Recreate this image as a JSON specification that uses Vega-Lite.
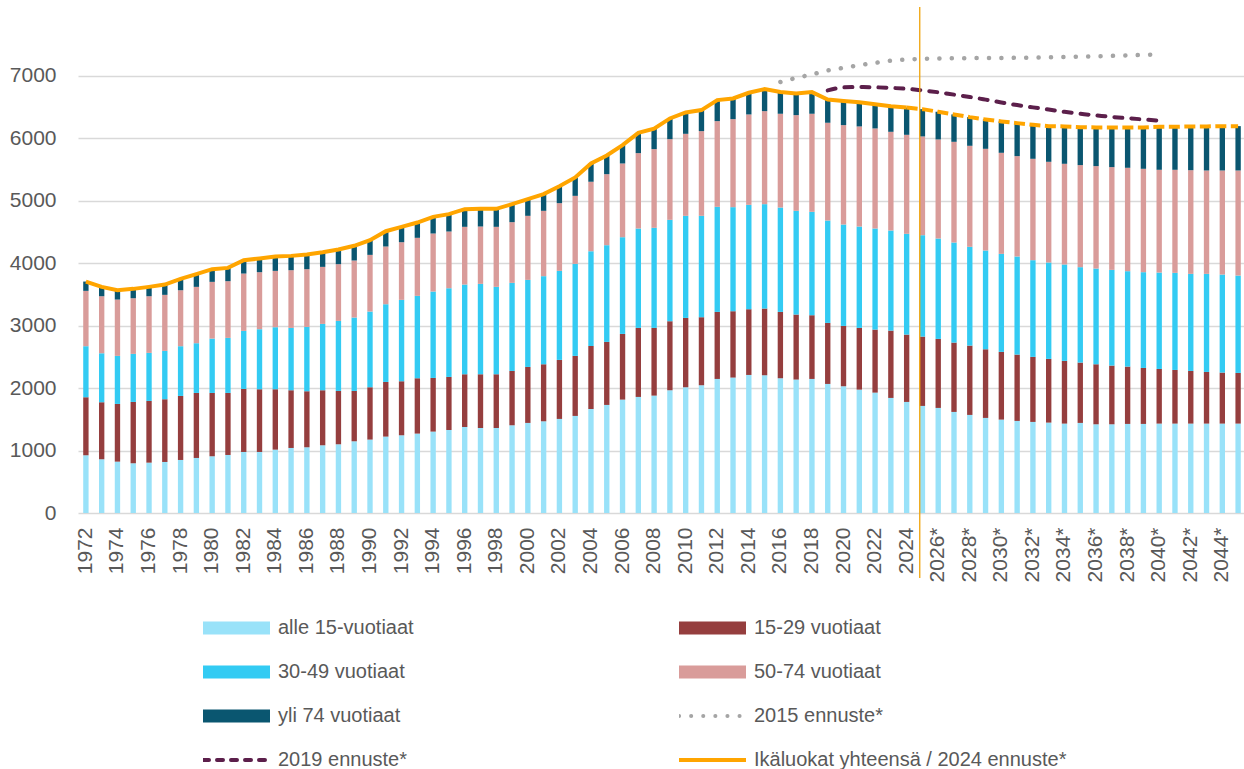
{
  "$schema": "https://vega.github.io/schema/vega-lite/v6.json",
  "width": 1168,
  "height": 506,
  "autosize": {"type": "none"},
  "padding": {"left": 78, "top": 7, "right": 0, "bottom": 256},
  "background": "white",
  "config": {"view": {"stroke": null}, "font": "Liberation Sans"},
  "datasets": {
    "groups": [
      {"k": "a", "series": "alle 15-vuotiaat", "rank": 1},
      {"k": "b", "series": "15-29 vuotiaat", "rank": 2},
      {"k": "c", "series": "30-49 vuotiaat", "rank": 3},
      {"k": "d", "series": "50-74 vuotiaat", "rank": 4},
      {"k": "e", "series": "yli 74 vuotiaat", "rank": 5},
      {"k": "f15", "series": "2015 ennuste*", "rank": 6},
      {"k": "f19", "series": "2019 ennuste*", "rank": 7},
      {"k": "t", "series": "Ikäluokat yhteensä / 2024 ennuste*", "rank": 8}
    ],
    "years": [
      {"year": "1972", "a": 924, "b": 929, "c": 817, "d": 886, "e": 149, "t": 3705},
      {"year": "1973", "a": 860, "b": 913, "c": 784, "d": 913, "e": 150, "t": 3620},
      {"year": "1974", "a": 822, "b": 924, "c": 769, "d": 902, "e": 149, "t": 3566},
      {"year": "1975", "a": 796, "b": 982, "c": 769, "d": 891, "e": 150, "t": 3588},
      {"year": "1976", "a": 806, "b": 988, "c": 769, "d": 907, "e": 150, "t": 3620},
      {"year": "1977", "a": 817, "b": 1004, "c": 774, "d": 897, "e": 165, "t": 3657},
      {"year": "1978", "a": 849, "b": 1025, "c": 796, "d": 896, "e": 182, "t": 3748},
      {"year": "1979", "a": 881, "b": 1041, "c": 796, "d": 902, "e": 203, "t": 3823},
      {"year": "1980", "a": 908, "b": 1014, "c": 870, "d": 908, "e": 203, "t": 3903},
      {"year": "1981", "a": 929, "b": 993, "c": 881, "d": 908, "e": 213, "t": 3924},
      {"year": "1982", "a": 977, "b": 1009, "c": 929, "d": 918, "e": 214, "t": 4047},
      {"year": "1983", "a": 977, "b": 1004, "c": 961, "d": 913, "e": 219, "t": 4074},
      {"year": "1984", "a": 1014, "b": 967, "c": 993, "d": 902, "e": 230, "t": 4106},
      {"year": "1985", "a": 1041, "b": 924, "c": 998, "d": 924, "e": 229, "t": 4116},
      {"year": "1986", "a": 1052, "b": 897, "c": 1030, "d": 924, "e": 235, "t": 4138},
      {"year": "1987", "a": 1084, "b": 881, "c": 1062, "d": 913, "e": 235, "t": 4175},
      {"year": "1988", "a": 1100, "b": 854, "c": 1121, "d": 908, "e": 235, "t": 4218},
      {"year": "1989", "a": 1148, "b": 806, "c": 1175, "d": 913, "e": 235, "t": 4277},
      {"year": "1990", "a": 1175, "b": 838, "c": 1212, "d": 907, "e": 235, "t": 4367},
      {"year": "1991", "a": 1223, "b": 875, "c": 1244, "d": 924, "e": 245, "t": 4511},
      {"year": "1992", "a": 1244, "b": 865, "c": 1303, "d": 923, "e": 246, "t": 4581},
      {"year": "1993", "a": 1271, "b": 886, "c": 1319, "d": 929, "e": 245, "t": 4650},
      {"year": "1994", "a": 1303, "b": 859, "c": 1383, "d": 929, "e": 267, "t": 4741},
      {"year": "1995", "a": 1329, "b": 849, "c": 1420, "d": 908, "e": 278, "t": 4784},
      {"year": "1996", "a": 1377, "b": 844, "c": 1436, "d": 924, "e": 283, "t": 4864},
      {"year": "1997", "a": 1361, "b": 860, "c": 1447, "d": 918, "e": 283, "t": 4869},
      {"year": "1998", "a": 1361, "b": 860, "c": 1399, "d": 961, "e": 288, "t": 4869},
      {"year": "1999", "a": 1404, "b": 870, "c": 1410, "d": 972, "e": 288, "t": 4944},
      {"year": "2000", "a": 1442, "b": 896, "c": 1394, "d": 1025, "e": 267, "t": 5024},
      {"year": "2001", "a": 1468, "b": 913, "c": 1410, "d": 1046, "e": 267, "t": 5104},
      {"year": "2002", "a": 1506, "b": 945, "c": 1425, "d": 1084, "e": 272, "t": 5232},
      {"year": "2003", "a": 1554, "b": 961, "c": 1473, "d": 1089, "e": 294, "t": 5371},
      {"year": "2004", "a": 1666, "b": 1009, "c": 1516, "d": 1111, "e": 293, "t": 5595},
      {"year": "2005", "a": 1730, "b": 1009, "c": 1548, "d": 1137, "e": 299, "t": 5723},
      {"year": "2006", "a": 1815, "b": 1052, "c": 1548, "d": 1180, "e": 294, "t": 5889},
      {"year": "2007", "a": 1858, "b": 1105, "c": 1591, "d": 1207, "e": 325, "t": 6086},
      {"year": "2008", "a": 1879, "b": 1084, "c": 1602, "d": 1260, "e": 326, "t": 6151},
      {"year": "2009", "a": 1965, "b": 1105, "c": 1623, "d": 1292, "e": 331, "t": 6316},
      {"year": "2010", "a": 2013, "b": 1110, "c": 1634, "d": 1313, "e": 342, "t": 6412},
      {"year": "2011", "a": 2045, "b": 1089, "c": 1623, "d": 1356, "e": 337, "t": 6450},
      {"year": "2012", "a": 2146, "b": 1073, "c": 1682, "d": 1372, "e": 337, "t": 6610},
      {"year": "2013", "a": 2168, "b": 1062, "c": 1666, "d": 1409, "e": 331, "t": 6636},
      {"year": "2014", "a": 2210, "b": 1052, "c": 1671, "d": 1447, "e": 347, "t": 6727},
      {"year": "2015", "a": 2205, "b": 1068, "c": 1671, "d": 1489, "e": 353, "t": 6786},
      {"year": "2016", "a": 2157, "b": 1062, "c": 1671, "d": 1501, "e": 347, "t": 6738, "f15": 6899},
      {"year": "2017", "a": 2136, "b": 1041, "c": 1660, "d": 1532, "e": 347, "t": 6716, "f15": 6965},
      {"year": "2018", "a": 2146, "b": 1020, "c": 1655, "d": 1570, "e": 347, "t": 6738, "f15": 7020},
      {"year": "2019", "a": 2066, "b": 977, "c": 1639, "d": 1565, "e": 373, "t": 6620, "f15": 7085, "f19": 6765},
      {"year": "2020", "a": 2029, "b": 966, "c": 1623, "d": 1591, "e": 386, "t": 6595, "f15": 7125, "f19": 6813},
      {"year": "2021", "a": 1975, "b": 988, "c": 1623, "d": 1602, "e": 387, "t": 6575, "f15": 7170, "f19": 6819},
      {"year": "2022", "a": 1927, "b": 1009, "c": 1618, "d": 1602, "e": 389, "t": 6545, "f15": 7205, "f19": 6815},
      {"year": "2023", "a": 1842, "b": 1078, "c": 1602, "d": 1580, "e": 408, "t": 6510, "f15": 7240, "f19": 6805},
      {"year": "2024", "a": 1778, "b": 1078, "c": 1613, "d": 1585, "e": 436, "t": 6490, "f15": 7258, "f19": 6790},
      {"year": "2025*", "a": 1714, "b": 1110, "c": 1623, "d": 1581, "e": 437, "t": 6465, "f15": 7270, "f19": 6765},
      {"year": "2026*", "a": 1682, "b": 1105, "c": 1607, "d": 1586, "e": 443, "t": 6423, "f15": 7277, "f19": 6735},
      {"year": "2027*", "a": 1618, "b": 1110, "c": 1602, "d": 1612, "e": 438, "t": 6380, "f15": 7280, "f19": 6697},
      {"year": "2028*", "a": 1570, "b": 1110, "c": 1581, "d": 1617, "e": 459, "t": 6337, "f15": 7282, "f19": 6660},
      {"year": "2029*", "a": 1522, "b": 1099, "c": 1581, "d": 1628, "e": 470, "t": 6300, "f15": 7284, "f19": 6617},
      {"year": "2030*", "a": 1495, "b": 1084, "c": 1569, "d": 1618, "e": 502, "t": 6268, "f15": 7285, "f19": 6572},
      {"year": "2031*", "a": 1474, "b": 1062, "c": 1570, "d": 1607, "e": 528, "t": 6241, "f15": 7286, "f19": 6530},
      {"year": "2032*", "a": 1458, "b": 1041, "c": 1548, "d": 1623, "e": 545, "t": 6215, "f15": 7290, "f19": 6493},
      {"year": "2033*", "a": 1447, "b": 1020, "c": 1543, "d": 1612, "e": 571, "t": 6193, "f15": 7295, "f19": 6458},
      {"year": "2034*", "a": 1431, "b": 1004, "c": 1543, "d": 1612, "e": 598, "t": 6188, "f15": 7300, "f19": 6422},
      {"year": "2035*", "a": 1442, "b": 966, "c": 1527, "d": 1634, "e": 608, "t": 6177, "f15": 7305, "f19": 6390},
      {"year": "2036*", "a": 1420, "b": 961, "c": 1532, "d": 1640, "e": 619, "t": 6172, "f15": 7310, "f19": 6365},
      {"year": "2037*", "a": 1420, "b": 940, "c": 1532, "d": 1645, "e": 635, "t": 6172, "f15": 7318, "f19": 6340},
      {"year": "2038*", "a": 1426, "b": 918, "c": 1527, "d": 1655, "e": 646, "t": 6172, "f15": 7325, "f19": 6320},
      {"year": "2039*", "a": 1426, "b": 896, "c": 1533, "d": 1655, "e": 662, "t": 6172, "f15": 7333, "f19": 6300},
      {"year": "2040*", "a": 1431, "b": 875, "c": 1543, "d": 1645, "e": 689, "t": 6183, "f15": 7341, "f19": 6280},
      {"year": "2041*", "a": 1431, "b": 859, "c": 1554, "d": 1650, "e": 689, "t": 6183},
      {"year": "2042*", "a": 1431, "b": 843, "c": 1554, "d": 1660, "e": 700, "t": 6188},
      {"year": "2043*", "a": 1431, "b": 827, "c": 1570, "d": 1655, "e": 705, "t": 6188},
      {"year": "2044*", "a": 1431, "b": 817, "c": 1569, "d": 1666, "e": 710, "t": 6193},
      {"year": "2045*", "a": 1431, "b": 811, "c": 1559, "d": 1682, "e": 710, "t": 6193}
    ]
  },
  "data": {"name": "years"},
  "encoding": {
    "x": {
      "field": "year",
      "type": "ordinal",
      "scale": {"paddingInner": 0.66, "paddingOuter": 0.33},
      "axis": {
        "title": null,
        "domain": false,
        "ticks": false,
        "grid": false,
        "labelAngle": 270,
        "labelAlign": "right",
        "labelBaseline": "middle",
        "labelPadding": 14,
        "labelFont": "Liberation Sans",
        "labelFontSize": 21,
        "labelColor": "#595959",
        "labelOverlap": false,
        "labelExpr": "parseInt(datum.label) % 2 == 0 ? datum.label : ''"
      }
    }
  },
  "layer": [
    {
      "transform": [
        {"fold": ["a", "b", "c", "d", "e"], "as": ["k", "value"]},
        {"lookup": "k", "from": {"data": {"name": "groups"}, "key": "k", "fields": ["series", "rank"]}}
      ],
      "mark": {"type": "bar"},
      "encoding": {
        "y": {
          "field": "value",
          "type": "quantitative",
          "stack": "zero",
          "scale": {"domain": [0, 8100], "nice": false, "zero": true},
          "axis": {
            "title": null,
            "values": [0, 1000, 2000, 3000, 4000, 5000, 6000, 7000],
            "format": "d",
            "domain": false,
            "ticks": false,
            "labelPadding": 22,
            "labelFont": "Liberation Sans",
            "labelFontSize": 21,
            "labelColor": "#595959",
            "gridColor": "#D9D9D9",
            "gridWidth": 1.3
          }
        },
        "order": {"field": "rank", "type": "quantitative", "sort": "ascending"},
        "color": {
          "field": "series",
          "type": "nominal",
          "scale": {
            "domain": ["alle 15-vuotiaat", "15-29 vuotiaat", "30-49 vuotiaat", "50-74 vuotiaat", "yli 74 vuotiaat", "2015 ennuste*", "2019 ennuste*", "Ikäluokat yhteensä / 2024 ennuste*"],
            "range": ["#99E2F9", "#953E3E", "#33CBF3", "#D99C9A", "#0A5670", "#A5A5A5", "#5C1F4B", "#FFA500"]
          },
          "legend": {
            "title": null,
            "orient": "none",
            "legendX": 125,
            "legendY": 611,
            "columns": 2,
            "direction": "horizontal",
            "padding": 0,
            "symbolType": "stroke",
            "symbolSize": 4489,
            "symbolStrokeWidth": 0,
            "symbolOffset": 23.5,
            "clipHeight": 20,
            "rowPadding": 24,
            "columnPadding": 265,
            "labelOffset": 31.5,
            "labelFont": "Liberation Sans",
            "labelFontSize": 20,
            "labelColor": "#595959",
            "labelLimit": 600,
            "encode": {
              "symbols": {
                "update": {
                  "fill": {"value": "transparent"},
                  "opacity": {"value": 1},
                  "stroke": {"signal": "scale('color', datum.value)"},
                  "strokeWidth": {"signal": "indexof(['2015 ennuste*','2019 ennuste*','Ikäluokat yhteensä / 2024 ennuste*'], datum.value) >= 0 ? 4 : 13"},
                  "strokeDash": {"signal": "datum.value === '2015 ennuste*' ? [0.1, 12] : (datum.value === '2019 ennuste*' ? [6, 8] : [])"},
                  "strokeCap": {"signal": "datum.value === '2015 ennuste*' || datum.value === '2019 ennuste*' ? 'round' : 'butt'"}
                }
              }
            }
          }
        }
      }
    },
    {
      "transform": [
        {"fold": ["t"], "as": ["k", "value"]},
        {"lookup": "k", "from": {"data": {"name": "groups"}, "key": "k", "fields": ["series"]}},
        {"filter": "parseInt(datum.year) <= 2024"}
      ],
      "mark": {"type": "line", "strokeWidth": 4},
      "encoding": {
        "y": {"field": "value", "type": "quantitative", "stack": null},
        "color": {"field": "series", "type": "nominal"}
      }
    },
    {
      "transform": [
        {"fold": ["t"], "as": ["k", "value"]},
        {"lookup": "k", "from": {"data": {"name": "groups"}, "key": "k", "fields": ["series"]}},
        {"filter": "parseInt(datum.year) >= 2024"}
      ],
      "mark": {"type": "line", "strokeWidth": 4, "strokeDash": [11, 4.5]},
      "encoding": {
        "y": {"field": "value", "type": "quantitative", "stack": null},
        "color": {"field": "series", "type": "nominal"}
      }
    },
    {
      "transform": [
        {"fold": ["f15"], "as": ["k", "value"]},
        {"filter": "isValid(datum.value)"},
        {"lookup": "k", "from": {"data": {"name": "groups"}, "key": "k", "fields": ["series"]}}
      ],
      "mark": {"type": "line", "strokeWidth": 4.5, "strokeDash": [0.1, 12.3], "strokeCap": "round", "interpolate": "monotone"},
      "encoding": {
        "y": {"field": "value", "type": "quantitative", "stack": null},
        "color": {"field": "series", "type": "nominal"}
      }
    },
    {
      "transform": [
        {"fold": ["f19"], "as": ["k", "value"]},
        {"filter": "isValid(datum.value)"},
        {"lookup": "k", "from": {"data": {"name": "groups"}, "key": "k", "fields": ["series"]}}
      ],
      "mark": {"type": "line", "strokeWidth": 4, "strokeDash": [8, 9], "strokeCap": "round", "interpolate": "monotone"},
      "encoding": {
        "y": {"field": "value", "type": "quantitative", "stack": null},
        "color": {"field": "series", "type": "nominal"}
      }
    },
    {
      "data": {"values": [{}]},
      "mark": {"type": "rule", "color": "#F0A30A", "strokeWidth": 1.3, "clip": false},
      "encoding": {
        "x": {"datum": "2025*", "type": "ordinal", "bandPosition": 0},
        "y": {"datum": 8100, "type": "quantitative"},
        "y2": {"datum": -1040}
      }
    }
  ]
}
